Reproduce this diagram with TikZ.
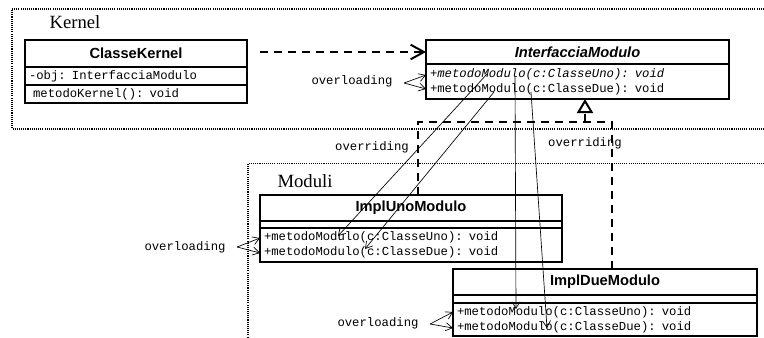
\documentclass[tikz,border=0pt]{standalone}
\usepackage{fontspec}
\setmainfont{Liberation Serif}
\setsansfont{Liberation Sans}
\setmonofont{Liberation Mono}
\usepackage{tikz}
\usetikzlibrary{arrows.meta, calc, positioning}

\begin{document}
\begin{tikzpicture}[
  x=0.75pt, y=-0.75pt,
  classhead/.style={rectangle, draw=black, line width=1.2pt, outer sep=0pt, inner sep=0pt, font=\sffamily\bfseries\fontsize{11}{13}\selectfont},
  classrow/.style={rectangle, draw=black, line width=1.2pt, outer sep=0pt, inner xsep=3pt, inner ysep=0pt, align=left, font=\ttfamily\fontsize{9.2}{11}\selectfont},
  note/.style={inner sep=1pt, font=\ttfamily\fontsize{9.2}{11}\selectfont},
  pkg/.style={line width=0.9pt, dash pattern=on 0.8pt off 0.8pt},
  pkglabel/.style={inner sep=0pt, font=\fontsize{14}{16}\selectfont},
  depend/.style={-{Straight Barb[length=10pt, width=11pt]}, line width=1.5pt, dash pattern=on 6pt off 4.5pt},
  realize/.style={line width=1.5pt, dash pattern=on 6pt off 4.5pt},
  thinarrow/.style={-{Straight Barb[length=5pt, width=6pt]}, line width=0.5pt}
]
\useasboundingbox (0,0) rectangle (764,337);

% --- Pakete ---
\draw[pkg] (764,9) -- (12,9) -- (12,129) -- (764,129);
\draw[pkg] (764,163.5) -- (248,163.5) -- (248,337);
\node[pkglabel] (kernel) at (75,22) {Kernel};
\node[pkglabel] (moduli) at (305,181) {Moduli};

% --- Kernel ---
\node[classhead, minimum width=166.5pt, minimum height=20.25pt, anchor=north west] (ckh) at (25,40) {ClasseKernel};
\node[classrow, text width=160.5pt, minimum height=13.5pt, below=0pt of ckh] (cka) {-obj: InterfacciaModulo};
\node[classrow, text width=160.5pt, minimum height=13.5pt, below=0pt of cka] (ckm) {\ metodoKernel(): void};

\node[classhead, font=\sffamily\bfseries\itshape\fontsize{11}{13}\selectfont, minimum width=227.25pt, minimum height=18pt, anchor=north west] (ifh) at (426,40) {InterfacciaModulo};
\node[classrow, text width=221.25pt, minimum height=26.25pt, below=0pt of ifh] (ifm) {\textit{+metodoModulo(c:ClasseUno): void}\\+metodoModulo(c:ClasseDue): void};

% --- Moduli ---
\node[classhead, minimum width=226.5pt, minimum height=19.5pt, anchor=north west] (unoh) at (260,195) {ImplUnoModulo};
\node[classrow, text width=220.5pt, minimum height=5.25pt, below=0pt of unoh] (unoa) {};
\node[classrow, text width=220.5pt, minimum height=25.5pt, below=0pt of unoa] (unom) {+metodoModulo(c:ClasseUno): void\\+metodoModulo(c:ClasseDue): void};

\node[classhead, minimum width=228pt, minimum height=19.5pt, anchor=north west] (dueh) at (453,269) {ImplDueModulo};
\node[classrow, text width=222pt, minimum height=6pt, below=0pt of dueh] (duea) {};
\node[classrow, text width=222pt, minimum height=24.75pt, below=0pt of duea] (duem) {+metodoModulo(c:ClasseUno): void\\+metodoModulo(c:ClasseDue): void};

% --- Beschriftungen ---
\node[note] (ovk) at (352,81) {overloading};
\node[note] (ovu) at (185,247) {overloading};
\node[note] (ovd) at (378,323) {overloading};
\node[note] (orl) at (372,147) {overriding};
\node[note] (orr) at (585,143) {overriding};

% Hilfspunkte
\coordinate (dep) at ($(ckh.east |- ifh.west)+(13,0)$);
\coordinate (gl) at ($(unoh.north)+(7,0)$);
\coordinate (gr) at ($(dueh.north)+(7,0)$);
\coordinate (gtip) at ($(ifm.south)+(7.5,0)$);
\coordinate (gen) at ($(gtip)+(0,23)$);

% Verbindungen
\draw[depend] (dep) -- (ifh.west);
\draw[realize] (gl) |- (gen) -| (gr);
\draw[realize, -{Triangle[open, fill=white, length=10.5pt, width=12pt]}] (gen) -- (gtip);

\draw[thinarrow] ($(ovk.east)+(10,2)$) -- ($(ifm.west)+(0,-6.5)$);
\draw[thinarrow] ($(ovk.east)+(10,2)$) -- ($(ifm.west)+(0,7.5)$);
\draw[thinarrow] ($(ovu.east)+(10,0)$) -- ($(unom.west)+(0,-7)$);
\draw[thinarrow] ($(ovu.east)+(10,0)$) -- ($(unom.west)+(0,8)$);
\draw[thinarrow] ($(ovd.east)+(10,1)$) -- ($(duem.west)+(0,-7.5)$);
\draw[thinarrow] ($(ovd.east)+(10,1)$) -- ($(duem.west)+(0,8.5)$);

% overriding
\draw[thinarrow] ($(ifm.west)+(61,-7.5)$) -- ($(unom.west)+(78,-9)$);
\draw[thinarrow] ($(ifm.west)+(68,10.5)$) -- ($(unom.west)+(105,4)$);
\draw[thinarrow] ($(ifm.west)+(89,-4.5)$) -- ($(duem.west)+(63,-10.5)$);
\draw[thinarrow] ($(ifm.west)+(105,10.5)$) -- ($(duem.west)+(94,8.5)$);
\end{tikzpicture}
\end{document}
